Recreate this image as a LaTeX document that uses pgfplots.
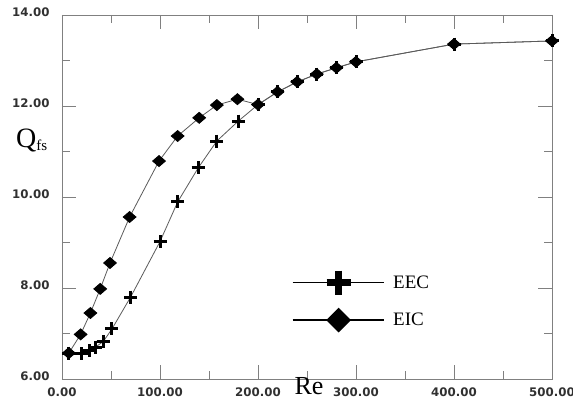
\documentclass[border=0pt]{standalone}
\usepackage{fontspec}
\setmainfont{Liberation Serif}
\newfontfamily\tickfont{DejaVu Sans}
\usepackage{pgfplots}
\pgfplotsset{compat=1.18}

\definecolor{axgray}{HTML}{808080}
\definecolor{lblgray}{HTML}{303030}
\definecolor{linegray}{HTML}{5A5A5A}

\begin{document}
\begin{tikzpicture}
\begin{axis}[
    scale only axis,
    width=490pt, height=364pt,
    xmin=0, xmax=500, ymin=6, ymax=14,
    xtick={0,100,...,500}, ytick={6,8,...,14},
    minor x tick num=1, minor y tick num=1,
    tick align=inside,
    major tick length=14pt, minor tick length=8pt,
    axis line style={axgray, line width=0.8pt},
    every tick/.style={axgray, line width=0.8pt},
    /pgf/number format/assume math mode=true,
    /pgf/number format/.cd, fixed, fixed zerofill, precision=2, /pgfplots/.cd,
    ticklabel style={font=\tickfont\bfseries\fontsize{11.8}{12}\selectfont, text=lblgray},
    yticklabel style={xshift=-9pt, yshift=3pt},
    xticklabel style={yshift=-5pt},
    clip=false,
    legend image code/.code={
      \draw[mark repeat=2, mark phase=2, #1] plot coordinates {(0pt,0pt) (46pt,0pt) (91pt,0pt)};
    },
    legend style={at={(0.469,0.214)}, anchor=west, draw=none, fill=none,
      inner sep=0pt, row sep=14pt, column sep=7pt,
      font=\fontsize{19}{19}\selectfont},
    legend cell align=left,
]
% legend entries
\addlegendimage{black, line width=1.2pt, mark=+, mark size=12pt, mark options={line width=7pt}}
\addlegendentry{EEC}
\addlegendimage{black, line width=1.2pt, mark=diamond*, mark size=11.5pt, mark options={xscale=1.33}}
\addlegendentry{EIC}

% EEC
\addplot[linegray, line width=0.8pt, mark=+, mark size=6.5pt,
  mark options={black, line width=3pt}, forget plot] coordinates {
  (7,6.57) (20,6.55) (28,6.62) (34,6.70) (42,6.82) (51,7.10) (70,7.80)
  (100,9.02) (118,9.89) (139,10.64) (158,11.23) (180,11.67) (200,12.03)
  (220,12.31) (240,12.53) (260,12.70) (280,12.84) (300,12.97) (400,13.36) (500,13.43)
};
% EIC
\addplot[linegray, line width=0.8pt, mark=diamond*, mark size=5.5pt,
  mark options={black, fill=black, xscale=1.55}, forget plot] coordinates {
  (7,6.57) (19,6.98) (29,7.45) (39,7.98) (49,8.55) (69,9.56) (99,10.79)
  (118,11.34) (140,11.74) (158,12.02) (179,12.15) (200,12.03) (220,12.31)
  (240,12.53) (260,12.70) (280,12.84) (300,12.97) (400,13.36) (500,13.43)
};

\node[anchor=base west, inner sep=0pt] at (rel axis cs:-0.094,0.637)
  {{\fontsize{28}{28}\selectfont Q}\raisebox{-3pt}{\fontsize{15}{15}\selectfont fs}};
\node[anchor=base, inner sep=0pt] at (rel axis cs:0.504,-0.043)
  {\fontsize{26}{26}\selectfont Re};

\coordinate (ll) at (rel axis cs:0,0);
\coordinate (ur) at (rel axis cs:1,1);
\end{axis}
\pgfresetboundingbox
\path[use as bounding box] ([shift={(-62pt,-22pt)}]ll) rectangle ([shift={(21pt,15pt)}]ur);
\end{tikzpicture}
\end{document}
